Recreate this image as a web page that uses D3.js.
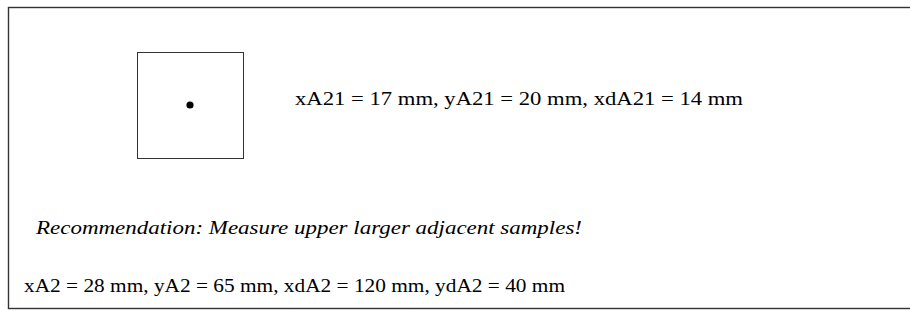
<!DOCTYPE html>
<html>
<head>
<meta charset="utf-8">
<script src="https://cdn.jsdelivr.net/npm/d3@7"></script>
<style>
  body { margin: 0; background: #fff; }
  svg { display: block; }
  text { font-family: "Liberation Serif", "Times New Roman", serif; fill: #000; }
</style>
</head>
<body>
<svg width="910" height="312"></svg>
<script>
// sample square with its centre point
const sampleBox = [{x: 0, y: 0, size: 1}];
const samplePoints = [{x: 0.5, y: 0.5}];

// text lines
const sampleLabel = ['xA21 = 17 mm, yA21 = 20 mm, xdA21 = 14 mm'];
const noteLines = ['Recommendation: Measure upper larger adjacent samples!'];
const resultLines = ['xA2 = 28 mm, yA2 = 65 mm, xdA2 = 120 mm, ydA2 = 40 mm'];

const svg = d3.select('svg'),
    width = +svg.attr('width'),
    height = +svg.attr('height');

// frame (runs off the right edge)
svg.append('rect')
    .attr('x', 8.5)
    .attr('y', 7.5)
    .attr('width', width)
    .attr('height', 301)
    .attr('fill', 'none')
    .attr('stroke', '#333')
    .attr('stroke-width', 1.4);

const x = d3.scaleLinear().domain([0, 1]).range([137, 243]);
const y = d3.scaleLinear().domain([0, 1]).range([52, 158]);

svg.append('g')
  .selectAll('rect')
  .data(sampleBox)
  .enter().append('rect')
    .attr('x', d => x(d.x) + 0.5)
    .attr('y', d => y(d.y) + 0.5)
    .attr('width', d => x(d.size) - x(0))
    .attr('height', d => y(d.size) - y(0))
    .attr('fill', 'none')
    .attr('stroke', '#333');

svg.append('g')
  .selectAll('circle')
  .data(samplePoints)
  .enter().append('circle')
    .attr('cx', d => x(d.x))
    .attr('cy', d => y(d.y))
    .attr('r', 3.6)
    .attr('fill', '#000');

// the type in the picture is a bit wider than normal, so stretch it
function label(str, px, py, len, italic) {
  svg.append('text')
      .attr('x', px)
      .attr('y', py)
      .attr('font-size', 18.5)
      .attr('font-style', italic ? 'italic' : 'normal')
      .attr('textLength', len)
      .attr('lengthAdjust', 'spacingAndGlyphs')
      .text(str);
}

label(sampleLabel[0], 295, 105, 448, false);
label(noteLines[0], 36, 234, 546, true);
label(resultLines[0], 24, 292, 541, false);
</script>
</body>
</html>
